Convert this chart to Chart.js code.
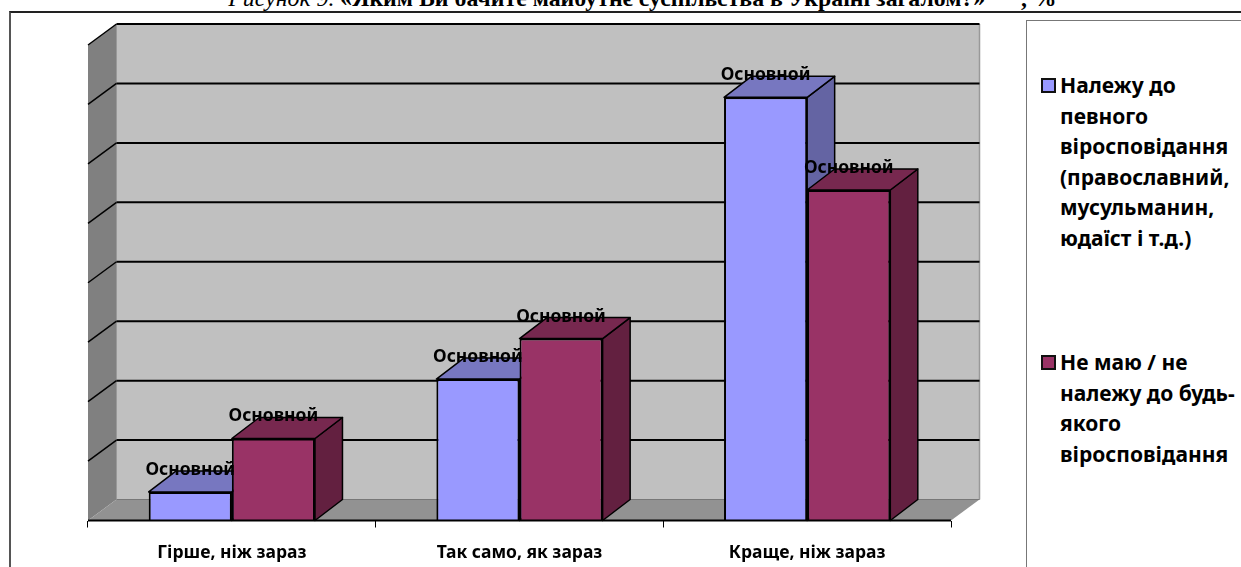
<!DOCTYPE html>
<html>
<head>
<meta charset="utf-8">
<script src="https://cdn.jsdelivr.net/npm/chart.js@4"></script>
<style>
body { margin: 0; background: #fff; width: 1241px; height: 567px; overflow: hidden; position: relative; }
#title { position: absolute; left: 0; width: 1241px; top: -15px; text-align: center; font: italic 23.8px "Liberation Serif", serif; white-space: pre; color: #000; padding-left: 44px; box-sizing: border-box; }
#title b { font-style: normal; }
#box { position: absolute; left: 9px; top: 11px; right: 0; bottom: 0; border-left: 2px solid #555; border-top: 2px solid #222; }
#legendBox { position: absolute; left: 1026px; top: 20px; right: 0; bottom: 0; border-left: 1px solid #777; border-top: 1px solid #777; background: #fff; }
canvas { position: absolute; left: 0; top: 0; }
.item { position: absolute; left: 33px; font: bold 21px/30.5px "Noto Sans", sans-serif; color: #000; white-space: pre; }
.swatch { position: absolute; left: -19px; top: 8px; width: 11px; height: 11px; border: 2px solid #111; }
</style>
</head>
<body>
<div id="title"></div>
<div id="box"></div>
<div id="legendBox"></div>
<canvas id="chart" width="1241" height="567"></canvas>
<script>
const categories = ['Гірше, ніж зараз', 'Так само, як зараз', 'Краще, ніж зараз'];
const belongValues = [2.4, 11.9, 35.6];
const noBelongValues = [6.9, 15.3, 27.8];
const yMax = 40;
const yStep = 5;
const belongLines = ['Належу до', 'певного', 'віросповідання', '(православний,', 'мусульманин,', 'юдаїст і т.д.)'];
const noBelongLines = ['Не маю / не', 'належу до будь-', 'якого', 'віросповідання'];
const pointLabel = 'Основной';

const BLUE = '#9999FF', BLUE_TOP = '#7777C0', BLUE_SIDE = '#6464A3';
const RED = '#993366', RED_TOP = '#77284F', RED_SIDE = '#632040';

function poly(ctx, pts, fill, stroke, lw) {
    ctx.beginPath();
    pts.forEach((p, i) => i ? ctx.lineTo(p[0], p[1]) : ctx.moveTo(p[0], p[1]));
    ctx.closePath();
    ctx.fillStyle = fill;
    ctx.fill();
    if (stroke) {
        ctx.strokeStyle = stroke;
        ctx.lineWidth = lw;
        ctx.lineJoin = 'round';
        ctx.stroke();
    }
}

function line(ctx, x1, y1, x2, y2, color, lw) {
    ctx.beginPath();
    ctx.moveTo(x1, y1);
    ctx.lineTo(x2, y2);
    ctx.strokeStyle = color;
    ctx.lineWidth = lw;
    ctx.stroke();
}

// Paredes, suelo y caras laterales del efecto 3D
const box3d = {
    id: 'box3d',
    beforeDatasetsDraw(chart) {
        const { ctx, scales: { x, y } } = chart;
        const dx = 28.5, dy = 21;
        const l = x.left, r = x.right, t = y.top, b = y.bottom;
        ctx.save();
        poly(ctx, [[l + dx, t - dy], [r + dx, t - dy], [r + dx, b - dy], [l + dx, b - dy]], '#C0C0C0');
        line(ctx, r + dx, t - dy, r + dx, b - dy, '#999', 1.5);
        poly(ctx, [[l, t], [l + dx, t - dy], [l + dx, b - dy], [l, b]], '#808080');
        line(ctx, l + dx, t - dy, l + dx, b - dy, '#999', 1);
        poly(ctx, [[l, b], [l + dx, b - dy], [r + dx, b - dy], [r, b]], '#929292');
        line(ctx, l + dx, b - dy, r + dx, b - dy, '#777', 1);
        for (let v = yStep; v <= yMax; v += yStep) {
            const py = y.getPixelForValue(v);
            line(ctx, l, py, l + dx, py - dy, '#000', 1.5);
            line(ctx, l + dx, py - dy, r + dx, py - dy, '#000', 2);
        }
        const bdx = 27.5;
        chart.data.datasets.forEach((ds, i) => {
            chart.getDatasetMeta(i).data.forEach(bar => {
                const p = bar.getProps(['x', 'y', 'width', 'base'], true);
                const x0 = p.x - p.width / 2, x1 = p.x + p.width / 2;
                poly(ctx, [[x1, p.y], [x1 + bdx, p.y - dy], [x1 + bdx, p.base - dy], [x1, p.base]], ds.sideColor, '#000', 1.5);
                poly(ctx, [[x0, p.y], [x0 + bdx, p.y - dy], [x1 + bdx, p.y - dy], [x1, p.y]], ds.topColor, '#000', 1.5);
            });
        });
        ctx.restore();
    },
    afterDatasetsDraw(chart) {
        const { ctx, scales: { x, y } } = chart;
        ctx.save();
        line(ctx, x.left, y.bottom, x.right, y.bottom, '#000', 2);
        ctx.font = 'bold 17.5px "Noto Sans", sans-serif';
        ctx.fillStyle = '#000';
        ctx.textAlign = 'center';
        ctx.textBaseline = 'middle';
        chart.data.datasets.forEach((ds, i) => {
            chart.getDatasetMeta(i).data.forEach(bar => {
                const p = bar.getProps(['x', 'y'], true);
                ctx.fillText(pointLabel, p.x, p.y - 22);
            });
        });
        ctx.restore();
    }
};

new Chart(document.getElementById('chart'), {
    type: 'bar',
    data: {
        labels: categories,
        datasets: [
            { label: belongLines.join(' '), data: belongValues, backgroundColor: BLUE, topColor: BLUE_TOP, sideColor: BLUE_SIDE, borderColor: '#000', borderWidth: 2 },
            { label: noBelongLines.join(' '), data: noBelongValues, backgroundColor: RED, topColor: RED_TOP, sideColor: RED_SIDE, borderColor: '#000', borderWidth: 2 }
        ]
    },
    options: {
        responsive: false,
        animation: false,
        layout: { padding: { left: 88, right: 290, top: 45, bottom: 0 } },
        plugins: { legend: { display: false }, tooltip: { enabled: false } },
        datasets: { bar: { categoryPercentage: 0.578, barPercentage: 1 } },
        scales: {
            x: {
                afterFit(s) { s.height = 46.5; },
                grid: { display: true, drawOnChartArea: false, drawTicks: true, tickLength: 7, color: '#000', offset: true },
                border: { display: false },
                ticks: { color: '#000', padding: 15, maxRotation: 0, font: { family: '"Noto Sans", sans-serif', size: 17.5, weight: 'bold' } }
            },
            y: {
                display: false,
                min: 0,
                max: yMax,
                ticks: { stepSize: yStep }
            }
        }
    },
    plugins: [box3d]
});

// Título y leyenda
document.getElementById('title').innerHTML = 'Рисунок 9. <b>«Яким Ви бачите майбутнє суспільства в Україні загалом?»</b>      <b>, %</b>';
[[belongLines, BLUE, 49], [noBelongLines, RED, 326]].forEach(([lines, color, top]) => {
    const el = document.createElement('div');
    el.className = 'item';
    el.style.top = top + 'px';
    el.textContent = lines.join('\n');
    const sw = document.createElement('span');
    sw.className = 'swatch';
    sw.style.background = color;
    el.appendChild(sw);
    document.getElementById('legendBox').appendChild(el);
});
</script>
</body>
</html>
